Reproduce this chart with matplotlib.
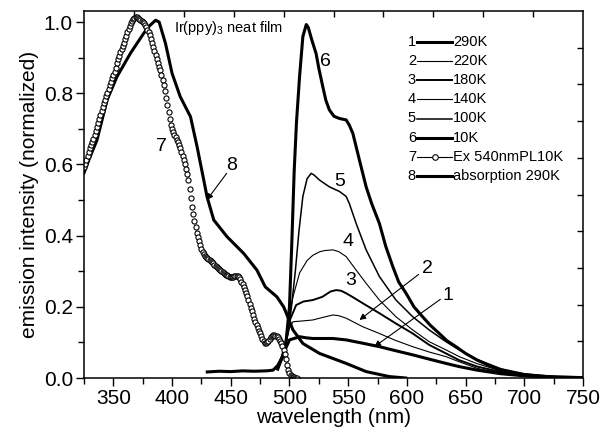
import matplotlib
matplotlib.use("Agg")
from matplotlib import pyplot
from matplotlib.lines import Line2D

pyplot.rcParams["font.family"] = ["Liberation Sans", "DejaVu Sans"]
pyplot.rcParams["mathtext.fontset"] = "custom"
pyplot.rcParams["mathtext.rm"] = "Liberation Sans"

TICKSIZE = 15
LABELSIZE = 15
NUMSIZE = 14
SMALLSIZE = 10.5

# PL excitation spectrum (curve 7), detection at 540 nm, 10 K, 1 nm steps
ex_wl = list(range(325, 507))
ex_int = [
    0.593, 0.602, 0.612, 0.624, 0.635, 0.645, 0.655, 0.663, 0.672, 0.683,
    0.694, 0.706, 0.717, 0.728, 0.739, 0.750, 0.761, 0.772, 0.782, 0.792,
    0.802, 0.812, 0.822, 0.832, 0.842, 0.851, 0.861, 0.872, 0.884, 0.895,
    0.905, 0.915, 0.924, 0.933, 0.942, 0.952, 0.962, 0.971, 0.980, 0.989,
    0.996, 1.003, 1.008, 1.012, 1.014, 1.014, 1.012, 1.009, 1.006, 1.003,
    1.000, 0.996, 0.991, 0.985, 0.978, 0.971, 0.963, 0.953, 0.942, 0.930,
    0.918, 0.906, 0.895, 0.885, 0.875, 0.864, 0.852, 0.838, 0.822, 0.805,
    0.786, 0.767, 0.748, 0.729, 0.712, 0.699, 0.690, 0.683, 0.676, 0.670,
    0.663, 0.655, 0.645, 0.635, 0.624, 0.613, 0.601, 0.588, 0.574, 0.556,
    0.530, 0.505, 0.481, 0.460, 0.440, 0.423, 0.408, 0.396, 0.385, 0.373,
    0.362, 0.354, 0.348, 0.344, 0.340, 0.337, 0.334, 0.331, 0.329, 0.326,
    0.322, 0.318, 0.315, 0.311, 0.308, 0.305, 0.303, 0.300, 0.297, 0.294,
    0.292, 0.290, 0.288, 0.286, 0.285, 0.284, 0.284, 0.285, 0.286, 0.287,
    0.287, 0.286, 0.283, 0.277, 0.270, 0.263, 0.256, 0.247, 0.238, 0.229,
    0.220, 0.209, 0.198, 0.187, 0.176, 0.167, 0.158, 0.149, 0.140, 0.133,
    0.126, 0.118, 0.110, 0.103, 0.098, 0.097, 0.100, 0.105, 0.110, 0.115,
    0.119, 0.121, 0.121, 0.119, 0.117, 0.114, 0.110, 0.105, 0.098, 0.090,
    0.080, 0.067, 0.052, 0.037, 0.022, 0.013, 0.008, 0.005, 0.003, 0.002,
    0.001, 0.001]

# absorption at 290 K (curve 8)
abs_wl = [325, 330, 336, 340, 344.5, 353, 364.7, 376, 381, 386, 389, 394.4, 400,
          407, 415.7, 421.3, 427, 429.8, 435.5, 446.8, 461, 472.3, 479.4, 489.3,
          495, 497.3, 503, 511.4, 525.6, 548.3, 565.3, 585, 599]
abs_int = [0.576, 0.620, 0.668, 0.720, 0.780, 0.846, 0.913, 0.969, 0.990, 1.005,
           1.000, 0.940, 0.856, 0.790, 0.734, 0.650, 0.556, 0.509, 0.444, 0.397,
           0.350, 0.303, 0.256, 0.228, 0.200, 0.182, 0.135, 0.097, 0.069, 0.041,
           0.018, 0.004, 0.000]

# PL spectra at different temperatures (curves 1-6)
pl10_wl = [430, 440, 450, 460, 470, 480, 486, 490, 494, 497, 500, 502, 504, 506,
           508.6, 511.4, 514.3, 516, 519, 522.7, 525, 528.4, 531, 534, 538, 542.6,
           548.3, 551, 554, 559.6, 565.3, 570, 576.6, 582, 588, 593, 599.3, 606,
           613.4, 620, 627.6, 634, 641.8, 650, 660, 670, 680, 690, 700, 720, 750]
pl10_int = [0.017, 0.019, 0.018, 0.020, 0.019, 0.020, 0.022, 0.035, 0.060, 0.100,
            0.200, 0.380, 0.580, 0.720, 0.847, 0.959, 0.993, 0.985, 0.950, 0.911,
            0.870, 0.818, 0.780, 0.753, 0.735, 0.729, 0.725, 0.710, 0.687, 0.612,
            0.537, 0.490, 0.434, 0.370, 0.313, 0.270, 0.238, 0.200, 0.172, 0.148,
            0.125, 0.105, 0.088, 0.069, 0.050, 0.035, 0.023, 0.015, 0.009, 0.004,
            0.001]

pl100_wl = [490, 495, 500, 505, 508, 511.4, 515, 518.5, 521, 525.6, 534, 542.6,
            548.3, 551, 556.8, 565.3, 576.6, 590.7, 605, 619, 633.3, 644.6, 660,
            680, 700, 725, 750]
pl100_int = [0.025, 0.060, 0.150, 0.300, 0.410, 0.510, 0.560, 0.575, 0.570, 0.556,
             0.537, 0.524, 0.510, 0.490, 0.434, 0.360, 0.285, 0.219, 0.172, 0.135,
             0.102, 0.079, 0.052, 0.026, 0.012, 0.004, 0.001]

pl140_wl = [490, 495, 498.7, 503, 508.6, 515, 520, 526, 530, 537, 542, 548.3,
            556.8, 565.3, 576.6, 590.7, 605, 619, 633.3, 644.6, 660, 680, 700,
            725, 750]
pl140_int = [0.025, 0.070, 0.153, 0.228, 0.295, 0.330, 0.345, 0.355, 0.358, 0.360,
             0.355, 0.341, 0.303, 0.266, 0.219, 0.172, 0.135, 0.102, 0.079, 0.060,
             0.040, 0.020, 0.010, 0.004, 0.001]

pl180_wl = [490, 495, 500, 505.7, 512, 519.9, 528, 535, 539.8, 544, 548.3, 555,
            562.4, 576.6, 590.7, 605, 619, 633.3, 644.6, 660, 680, 700, 725, 750]
pl180_int = [0.025, 0.070, 0.160, 0.205, 0.215, 0.219, 0.228, 0.243, 0.247, 0.245,
             0.238, 0.225, 0.210, 0.182, 0.153, 0.125, 0.093, 0.069, 0.050, 0.032,
             0.017, 0.008, 0.003, 0.001]

pl220_wl = [490, 495, 500, 503, 510, 519.9, 528, 537, 542, 548.3, 562.4, 576.6,
            590, 604.9, 619, 633.3, 645, 660, 680, 700, 725, 750]
pl220_int = [0.025, 0.070, 0.140, 0.158, 0.160, 0.163, 0.170, 0.177, 0.175, 0.168,
             0.144, 0.125, 0.106, 0.088, 0.073, 0.060, 0.045, 0.027, 0.014, 0.007,
             0.003, 0.001]

pl290_wl = [490, 495, 500, 508.6, 514, 519.9, 530, 537, 548.3, 562, 576.6, 590,
            605, 619, 633.3, 644.6, 660, 680, 700, 725, 750]
pl290_int = [0.025, 0.070, 0.107, 0.116, 0.113, 0.111, 0.111, 0.111, 0.107, 0.098,
             0.088, 0.077, 0.065, 0.053, 0.041, 0.032, 0.022, 0.012, 0.006, 0.002,
             0.001]

legend_labels = ["290K", "220K", "180K", "140K", "100K", "10K",
                 "Ex 540nmPL10K", "absorption 290K"]
legend_widths = [2.2, 0.8, 1.4, 0.8, 1.1, 2.2, 0.8, 2.2]

fig = pyplot.figure(figsize=(6.02, 4.33), dpi=100)
pos = [84 / 602, 55 / 433, 499 / 602, 367 / 433]
ax = fig.add_axes(pos)

ax.plot(pl290_wl, pl290_int, color="k", lw=2.2)
ax.plot(pl220_wl, pl220_int, color="k", lw=0.8)
ax.plot(pl180_wl, pl180_int, color="k", lw=1.4)
ax.plot(pl140_wl, pl140_int, color="k", lw=0.8)
ax.plot(pl100_wl, pl100_int, color="k", lw=1.1)
ax.plot(pl10_wl, pl10_int, color="k", lw=2.2)
ax.plot(abs_wl, abs_int, color="k", lw=2.2)
ax.plot(ex_wl, ex_int, ls="none", marker="o", markersize=3.7,
        markerfacecolor="white", markeredgecolor="k", markeredgewidth=0.8)

ax.set_xlim(325, 750)
ax.set_ylim(0, 1.031)
ax.set_xticks(range(350, 751, 50))
ax.set_xticks(range(325, 751, 25), minor=True)
ax.set_yticks([0.0, 0.2, 0.4, 0.6, 0.8, 1.0])
ax.set_yticks([0.1, 0.3, 0.5, 0.7, 0.9], minor=True)
ax.tick_params(which="both", direction="out", width=1.0, labelsize=TICKSIZE,
               pad=2)
ax.tick_params(which="major", length=6)
ax.tick_params(which="minor", length=4)
for s in ax.spines.values():
    s.set_linewidth(1.1)

ax.set_xlabel("wavelength (nm)", fontsize=LABELSIZE, labelpad=0)
ax.set_ylabel("emission intensity (normalized)", fontsize=LABELSIZE, labelpad=3)

# top and right axes carry ten equal divisions with inward ticks
frame = fig.add_axes(pos, frameon=False)
frame.set_xlim(0, 1)
frame.set_ylim(0, 1)
frame.set_xticks([i / 10 for i in range(1, 10)])
frame.set_yticks([i / 10 for i in range(1, 10)])
frame.tick_params(direction="in", length=4, width=1.0, top=True, right=True,
                  bottom=False, left=False, labelbottom=False, labelleft=False)

# curve numbers
ax.text(531, 0.889, "6", fontsize=NUMSIZE, ha="center", va="center")
ax.text(542.6, 0.552, "5", fontsize=NUMSIZE, ha="center", va="center")
ax.text(549.7, 0.383, "4", fontsize=NUMSIZE, ha="center", va="center")
ax.text(552.5, 0.275, "3", fontsize=NUMSIZE, ha="center", va="center")
ax.text(391.3, 0.649, "7", fontsize=NUMSIZE, ha="center", va="center")

arrow = dict(arrowstyle="-|>", color="k", lw=0.8, mutation_scale=9,
             shrinkA=0, shrinkB=0)
ax.annotate("", xy=(559.6, 0.163), xytext=(610, 0.291), arrowprops=arrow)
ax.text(617.7, 0.308, "2", fontsize=NUMSIZE, ha="center", va="center")
ax.annotate("", xy=(572.3, 0.088), xytext=(628.5, 0.221), arrowprops=arrow)
ax.text(634.7, 0.233, "1", fontsize=NUMSIZE, ha="center", va="center")
ax.annotate("", xy=(429.6, 0.500), xytext=(446.5, 0.575), arrowprops=arrow)
ax.text(451, 0.596, "8", fontsize=NUMSIZE, ha="center", va="center")

ax.text(402, 0.983, "Ir(ppy)$_3$ neat film", fontsize=SMALLSIZE, ha="left",
        va="center")

# numbered legend
for i, (lab, w) in enumerate(zip(legend_labels, legend_widths)):
    y = (378 - (41.7 + 19.2 * i)) / 367
    ax.text(0.657, y, str(i + 1), transform=ax.transAxes, fontsize=SMALLSIZE,
            ha="center", va="center")
    ax.add_line(Line2D([0.668, 0.737], [y, y], transform=ax.transAxes,
                       color="k", lw=w, clip_on=False))
    if i == 6:
        ax.plot([0.7025], [y], transform=ax.transAxes, marker="o",
                markersize=4, markerfacecolor="white", markeredgecolor="k",
                markeredgewidth=0.8, ls="none", clip_on=False)
    ax.text(0.740, y, lab, transform=ax.transAxes, fontsize=SMALLSIZE,
            ha="left", va="center")

fig.savefig("out.png", dpi=100)
